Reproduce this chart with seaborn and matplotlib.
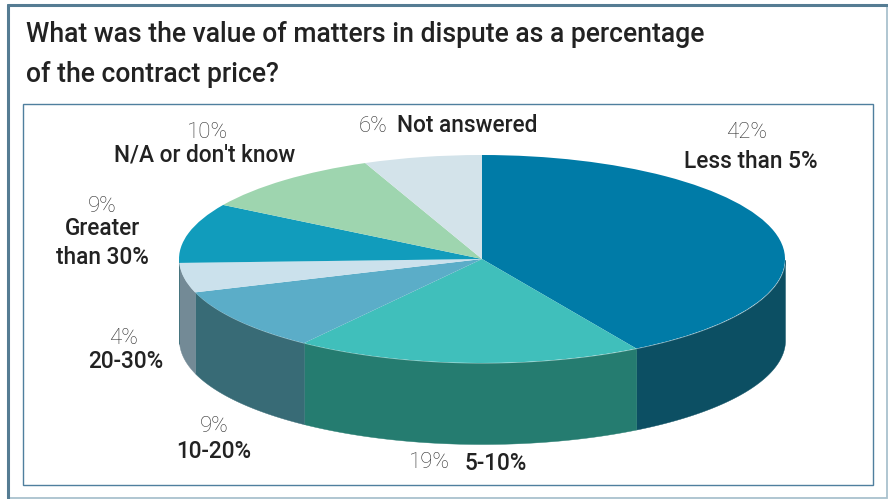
import numpy as np
import matplotlib
matplotlib.use("Agg")
import matplotlib.pyplot as plt
from matplotlib.patches import Rectangle
import seaborn as sns

title_lines = ["What was the value of matters in dispute as a percentage", "of the contract price?"]
categories = ["Less than 5%", "5-10%", "10-20%", "20-30%", "Greater\nthan 30%", "N/A or don't know", "Not answered"]
pct_labels = ["42%", "19%", "9%", "4%", "9%", "10%", "6%"]
slice_shares = [41.5, 18.5, 9.8, 4.6, 9.3, 10.0, 6.3]
top_colors = ["#007BA7", "#40BFBB", "#5BADC8", "#CBE1EC", "#119CBC", "#9ED5AF", "#D3E3EA"]
side_colors = ["#0C4F63", "#257C70", "#386B76", "#738A96", "#386B76", "#386B76", "#386B76"]

sns.set_theme(style="white")
plt.rcParams['font.family'] = ['Roboto', 'DejaVu Sans']

W, H = 888, 499
fig = plt.figure(figsize=(W / 100, H / 100), dpi=100, facecolor="white")
ax = fig.add_axes([0, 0, 1, 1])

CX, CY, RX, RY, DEPTH = 482, 259, 303, 104, 81
px = lambda x: x / W
py = lambda y: 1 - y / H

# frame
fig.add_artist(Rectangle((px(8), py(498)), px(879), 493 / H, transform=fig.transFigure, fill=False, ec="#A9C1CE", lw=1.3, zorder=0))
fig.add_artist(plt.Line2D([px(8), px(8)], [py(5), py(498)], color="#557C93", lw=2.2, zorder=1))
fig.add_artist(plt.Line2D([px(8), px(887)], [py(5), py(5)], color="#557C93", lw=2.2, zorder=1))
fig.add_artist(Rectangle((px(22.5), py(484.5)), (873 - 22.5) / W, (484.5 - 103.5) / H, transform=fig.transFigure, fill=False, ec="#4F7F9E", lw=1.0, zorder=1))

# pie top
palette = sns.color_palette(top_colors)
wedges, _ = ax.pie(slice_shares, colors=palette, startangle=90, counterclock=False, radius=1, center=(0, 0),
                   wedgeprops=dict(linewidth=0, zorder=3))
ax.set_aspect("auto")
ax.set_xlim(-CX / RX, (W - CX) / RX)
ax.set_ylim((CY - H) / RY, CY / RY)
ax.axis("off")

# side wall, from the pie's own slice angles
d = DEPTH / RY
for w, c in zip(wedges, side_colors):
    a = np.radians(np.linspace(w.theta1, w.theta2, 300))
    a = a[np.sin(a) <= 0.001]
    if a.size < 2:
        a2 = np.radians(np.linspace(w.theta1, w.theta2, 300)) - 2 * np.pi
        a = a2[np.sin(a2) <= 0.001]
    if a.size < 2:
        continue
    ax.fill_between(np.cos(a), np.sin(a), np.sin(a) - d, color=c, lw=0.3, zorder=2)

# labels: pct above, name below
name_kw = dict(ha="center", va="center", fontsize=16.3, color="#222222", fontweight="medium", transform=fig.transFigure)
pct_kw = dict(ha="center", va="center", fontsize=16.0, color="#333333", fontweight="light", transform=fig.transFigure)
fig.text(px(747), py(132), pct_labels[0], **pct_kw)
fig.text(px(751), py(161), categories[0], **name_kw)
fig.text(px(429), py(463), pct_labels[1], **pct_kw)
fig.text(px(496), py(463), categories[1], **name_kw)
fig.text(px(214), py(427), pct_labels[2], **pct_kw)
fig.text(px(214), py(452), categories[2], **name_kw)
fig.text(px(124), py(338), pct_labels[3], **pct_kw)
fig.text(px(126), py(362), categories[3], **name_kw)
fig.text(px(102), py(206), pct_labels[4], **pct_kw)
fig.text(px(102), py(243), categories[4], linespacing=1.3, **name_kw)
fig.text(px(207), py(132), pct_labels[5], **pct_kw)
fig.text(px(205), py(155), categories[5], **name_kw)
fig.text(px(373), py(126), pct_labels[6], **pct_kw)
fig.text(px(467), py(126), categories[6], **name_kw)

# title
fig.text(px(26), py(35), title_lines[0], ha="left", va="center", fontsize=19.1, color="#222222", fontweight="medium")
fig.text(px(26), py(75), title_lines[1], ha="left", va="center", fontsize=19.1, color="#222222", fontweight="medium")

fig.savefig("out.png", dpi=100)
